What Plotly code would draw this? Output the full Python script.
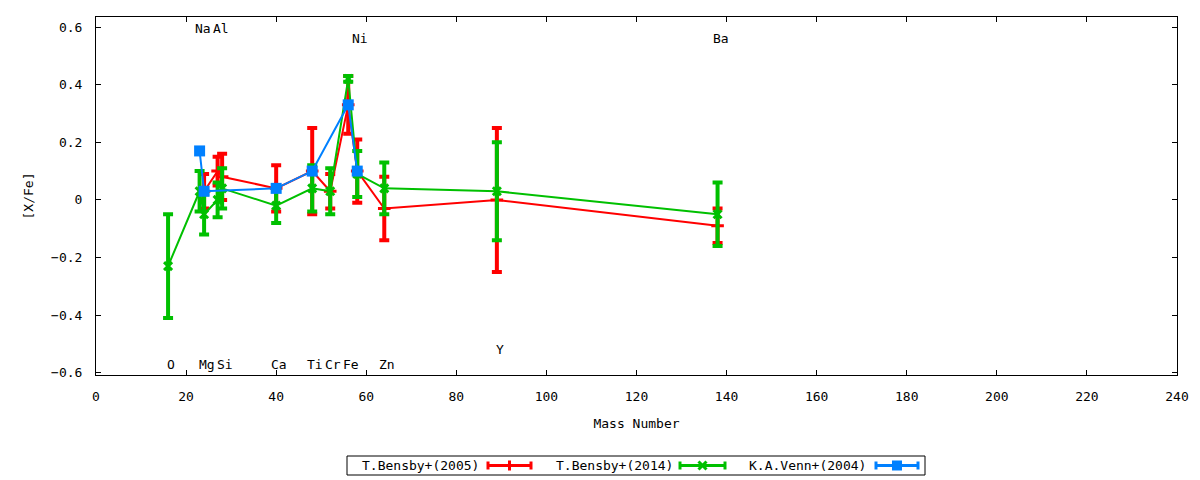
import plotly.graph_objects as go

# element labels (placed at their mass number)
elements = ["O", "Na", "Mg", "Al", "Si", "Ca", "Ti", "Cr", "Fe", "Ni", "Zn", "Y", "Ba"]
masses = [16, 23, 24, 27, 28, 40, 48, 52, 56, 58, 64, 89, 138]
label_y = [-0.57, 0.595, -0.57, 0.595, -0.57, -0.57, -0.57, -0.57, -0.57, 0.56, -0.57, -0.52, 0.56]

# T.Bensby+(2005)
b05_mass = [24, 27, 28, 40, 48, 52, 56, 58, 64, 89, 138]
b05_xfe = [0.03, 0.10, 0.08, 0.04, 0.10, 0.03, 0.33, 0.10, -0.03, 0.00, -0.09]
b05_err = [0.06, 0.05, 0.08, 0.08, 0.15, 0.06, 0.10, 0.11, 0.11, 0.25, 0.06]

# T.Bensby+(2014)
b14_mass = [16, 23, 24, 27, 28, 40, 48, 52, 56, 58, 64, 89, 138]
b14_xfe = [-0.23, 0.03, -0.05, 0.00, 0.04, -0.02, 0.04, 0.03, 0.42, 0.09, 0.04, 0.03, -0.05]
b14_err = [0.18, 0.07, 0.07, 0.06, 0.07, 0.06, 0.08, 0.08, 0.01, 0.08, 0.09, 0.17, 0.11]

# K.A.Venn+(2004)
v04_mass = [23, 24, 40, 48, 56, 58]
v04_xfe = [0.17, 0.03, 0.04, 0.10, 0.33, 0.10]

RED, GREEN, BLUE = "#ff0000", "#00c000", "#0080ff"
FONT = "DejaVu Sans Mono"
FS = 13

W, H = 1200, 480
L, R, T, B = 96, 23, 17, 105


# pixel -> paper coords (used for the hand made gnuplot style key)
def px(x):
    return (x - L) / (W - L - R)


def py(y):
    return (H - B - y) / (H - T - B)


fig = go.Figure()

fig.add_trace(go.Scatter(
    x=b05_mass, y=b05_xfe, mode="lines+markers", name="T.Bensby+(2005)",
    line=dict(color=RED, width=2),
    marker=dict(symbol="cross-thin", size=9, line=dict(color=RED, width=3)),
    error_y=dict(type="data", array=b05_err, color=RED, thickness=4, width=5),
))
fig.add_trace(go.Scatter(
    x=b14_mass, y=b14_xfe, mode="lines+markers", name="T.Bensby+(2014)",
    line=dict(color=GREEN, width=2),
    marker=dict(symbol="x-thin", size=8, line=dict(color=GREEN, width=3)),
    error_y=dict(type="data", array=b14_err, color=GREEN, thickness=4, width=5),
))
fig.add_trace(go.Scatter(
    x=v04_mass, y=v04_xfe, mode="lines+markers", name="K.A.Venn+(2004)",
    line=dict(color=BLUE, width=2),
    marker=dict(symbol="square", size=11, color=BLUE),
))

for el, m, ly in zip(elements, masses, label_y):
    fig.add_annotation(x=m, y=ly, text=el, showarrow=False, xshift=3,
                       font=dict(family=FONT, size=FS, color="black"))

# key below the plot, text on the left of each sample like gnuplot
shapes = [dict(type="rect", xref="paper", yref="paper",
               x0=px(347), x1=px(925), y0=py(475), y1=py(456),
               line=dict(color="black", width=1))]
key = [("T.Bensby+(2005)", RED, 481, 488, 531, "plus"),
       ("T.Bensby+(2014)", GREEN, 675, 680, 725, "x"),
       ("K.A.Venn+(2004)", BLUE, 868, 876, 918, "square")]
yc = 465.5
for txt, col, tx, s0, s1, sym in key:
    fig.add_annotation(xref="paper", yref="paper", x=px(tx), y=py(yc), text=txt,
                       showarrow=False, xanchor="right", yanchor="middle",
                       font=dict(family=FONT, size=FS, color="black"))
    ln = dict(color=col, width=3)
    shapes.append(dict(type="line", xref="paper", yref="paper",
                       x0=px(s0), x1=px(s1), y0=py(yc), y1=py(yc), line=ln))
    for sx in (s0, s1):
        shapes.append(dict(type="line", xref="paper", yref="paper",
                           x0=px(sx), x1=px(sx), y0=py(yc - 4), y1=py(yc + 4), line=ln))
    mx = (s0 + s1) / 2
    if sym == "plus":
        shapes.append(dict(type="line", xref="paper", yref="paper",
                           x0=px(mx), x1=px(mx), y0=py(yc - 5), y1=py(yc + 5), line=ln))
    elif sym == "x":
        shapes.append(dict(type="line", xref="paper", yref="paper",
                           x0=px(mx - 4), x1=px(mx + 4), y0=py(yc - 4), y1=py(yc + 4), line=ln))
        shapes.append(dict(type="line", xref="paper", yref="paper",
                           x0=px(mx - 4), x1=px(mx + 4), y0=py(yc + 4), y1=py(yc - 4), line=ln))
    else:
        shapes.append(dict(type="rect", xref="paper", yref="paper",
                           x0=px(mx - 5), x1=px(mx + 5), y0=py(yc + 5), y1=py(yc - 5),
                           fillcolor=col, line=dict(width=0)))

axis_style = dict(showline=True, linecolor="black", linewidth=1, mirror="ticks",
                  ticks="inside", ticklen=5, tickcolor="black", showgrid=False,
                  zeroline=False, tickfont=dict(family=FONT, size=FS, color="black"))

fig.update_xaxes(range=[0, 240], dtick=20, tick0=0,
                 title=dict(text="Mass Number", standoff=16,
                            font=dict(family=FONT, size=FS, color="black")),
                 ticklabelstandoff=9, **axis_style)
fig.update_yaxes(range=[-0.608, 0.635], dtick=0.2, tick0=0,
                 title=dict(text="[X/Fe]", standoff=14,
                            font=dict(family=FONT, size=FS, color="black")),
                 ticklabelstandoff=10, **axis_style)

fig.update_layout(
    width=W, height=H,
    margin=dict(l=L, r=R, t=T, b=B),
    plot_bgcolor="white", paper_bgcolor="white",
    showlegend=False,
    shapes=shapes,
    font=dict(family=FONT, size=FS, color="black"),
)

fig.write_html("out.html", config={"displayModeBar": False},
               post_script="document.body.style.margin='0';")
